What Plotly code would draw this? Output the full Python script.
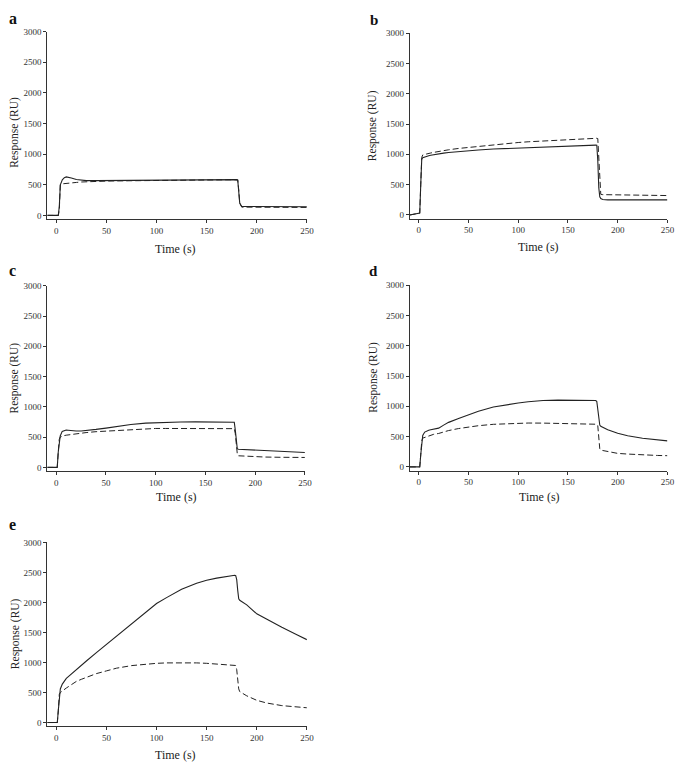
import plotly.graph_objects as go

# The page body has an 8px margin, so figure pixel = window pixel - 8
OFF = 8
W, H = 685 - OFF, 766 - OFF

# Common time grid (s)
time_s = [-9, 1, 2, 3, 4, 6, 8, 10, 12, 15, 20, 25, 30, 40, 50, 60, 75, 90, 100, 110,
          125, 140, 150, 160, 170, 178, 179, 180, 181, 182, 183, 185, 190, 200, 210, 225, 240, 250]

# Panel a
a_solid = [0, 0, 0, 150, 500, 580, 615, 628, 625, 610, 585, 572, 568, 568, 570, 572, 574, 576, 577, 578,
           579, 580, 581, 582, 583, 584, 584, 584, 580, 420, 200, 146, 145, 145, 143, 142, 140, 140]
a_dash = [0, 0, 0, 100, 500, 515, 520, 525, 528, 532, 538, 545, 550, 556, 560, 563, 567, 571, 573, 575,
          577, 578, 579, 580, 581, 582, 582, 582, 578, 420, 200, 135, 135, 135, 133, 132, 130, 130]
# Panel b
b_solid = [0, 30, 500, 920, 945, 960, 970, 978, 985, 995, 1008, 1020, 1030, 1047, 1060, 1072, 1087, 1098, 1104, 1110,
           1120, 1132, 1138, 1143, 1148, 1152, 1150, 900, 450, 300, 270, 255, 248, 248, 248, 248, 248, 248]
b_dash = [0, 30, 500, 950, 990, 1000, 1008, 1015, 1022, 1032, 1048, 1062, 1075, 1097, 1115, 1135, 1160, 1182, 1195, 1207,
          1222, 1234, 1240, 1250, 1258, 1265, 1265, 1260, 900, 450, 340, 335, 333, 330, 328, 325, 322, 320]
# Panel c
c_solid = [0, 0, 250, 450, 520, 595, 612, 616, 614, 608, 601, 602, 608, 628, 649, 675, 709, 732, 741, 747,
           751, 752, 752, 752, 752, 752, 745, 620, 420, 310, 300, 298, 292, 283, 276, 264, 252, 245]
c_dash = [0, 0, 250, 460, 502, 518, 525, 532, 537, 545, 555, 565, 575, 590, 600, 612, 627, 637, 643, 643,
          643, 643, 643, 643, 643, 643, 640, 560, 380, 230, 192, 190, 185, 175, 171, 167, 165, 164]
# Panel d
d_solid = [0, 0, 200, 430, 520, 575, 595, 605, 612, 620, 640, 690, 735, 800, 864, 920, 990, 1035, 1054, 1075,
           1097, 1102, 1103, 1103, 1101, 1095, 1080, 950, 780, 690, 670, 655, 615, 554, 515, 474, 445, 429]
d_dash = [0, 0, 200, 430, 475, 488, 502, 515, 525, 538, 552, 578, 600, 633, 658, 680, 703, 717, 723, 724,
          723, 720, 717, 714, 711, 706, 704, 680, 450, 300, 277, 270, 250, 223, 212, 196, 189, 185]
# Panel e
e_solid = [0, 0, 200, 480, 560, 640, 690, 735, 765, 810, 890, 955, 1025, 1163, 1300, 1440, 1650, 1860, 1982, 2080,
           2220, 2320, 2370, 2405, 2435, 2453, 2445, 2380, 2200, 2060, 2035, 2015, 1960, 1810, 1715, 1585, 1460, 1380]
e_dash = [0, 0, 200, 470, 500, 530, 552, 575, 597, 630, 685, 720, 750, 815, 860, 905, 948, 975, 986, 993,
          997, 993, 986, 975, 963, 952, 950, 880, 700, 560, 515, 495, 445, 370, 325, 282, 258, 246]

y_ticks = [0, 500, 1000, 1500, 2000, 2500, 3000]
x_ticks = [0, 50, 100, 150, 200, 250]
panel_labels = ["a", "b", "c", "d", "e"]
x_title = "Time (s)"
y_title = "Response (RU)"

panels = [(a_solid, a_dash), (b_solid, b_dash), (c_solid, c_dash), (d_solid, d_dash), (e_solid, e_dash)]

# window-pixel layout: (left, right, top, bottom) of each plot area
boxes = [(47.7, 310, 26.7, 216), (414, 674.3, 28.3, 215.5), (47.7, 308, 283.3, 470.3),
         (414, 674.3, 282.7, 469.8), (47.7, 310, 542.3, 727.8)]
letter_pos = [(13, 14), (378, 15), (13, 268), (377, 268), (13, 524)]
letter_size = [16, 15, 16, 15, 16]
ytitle_pos = [(15, 128), (377, 122), (15, 376), (377, 376), (15, 634)]
xtitle_pos = [(177, 246), (544, 244), (178, 497), (545, 497), (177, 757)]


def px(x):
    return (x - OFF) / W


def py(y):
    return 1 - (y - OFF) / H


font_family = "Liberation Serif"
fig = go.Figure()
annotations = []
for i, ((sol, das), box) in enumerate(zip(panels, boxes)):
    n = i + 1
    xa = "x" if n == 1 else f"x{n}"
    ya = "y" if n == 1 else f"y{n}"
    fig.add_trace(go.Scatter(x=time_s, y=das, mode="lines", xaxis=xa, yaxis=ya,
                             line=dict(color="#222222", width=1, dash="6px,3px"), showlegend=False))
    fig.add_trace(go.Scatter(x=time_s, y=sol, mode="lines", xaxis=xa, yaxis=ya,
                             line=dict(color="#222222", width=1.1), showlegend=False))
    l, r, t, b = box
    axis_common = dict(showline=True, linecolor="#333333", linewidth=1, ticks="outside",
                       ticklen=3, tickwidth=1, tickcolor="#333333", showgrid=False, zeroline=False,
                       tickfont=dict(family=font_family, size=9, color="#333333"))
    fig.update_layout(**{
        ("xaxis" if n == 1 else f"xaxis{n}"): dict(domain=[px(l), px(r)], anchor=ya, range=[-9, 250],
                                                   tickvals=x_ticks, **axis_common),
        ("yaxis" if n == 1 else f"yaxis{n}"): dict(domain=[py(b), py(t)], anchor=xa, range=[-60, 3000],
                                                   tickvals=y_ticks, **axis_common),
    })
    lx, ly = letter_pos[i]
    annotations.append(dict(text=f"<b>{panel_labels[i]}</b>", x=px(lx), y=py(ly), xref="paper", yref="paper",
                            showarrow=False, font=dict(family=font_family, size=letter_size[i], color="#111111"),
                            xanchor="center", yanchor="middle"))
    tx, ty = ytitle_pos[i]
    annotations.append(dict(text=y_title, x=px(tx), y=py(ty), xref="paper", yref="paper", textangle=-90,
                            showarrow=False, font=dict(family=font_family, size=11.5, color="#222222"),
                            xanchor="center", yanchor="middle"))
    sx, sy = xtitle_pos[i]
    annotations.append(dict(text=x_title, x=px(sx), y=py(sy), xref="paper", yref="paper",
                            showarrow=False, font=dict(family=font_family, size=12, color="#222222"),
                            xanchor="center", yanchor="middle"))

fig.update_layout(width=W, height=H, margin=dict(l=0, r=0, t=0, b=0), paper_bgcolor="white",
                  plot_bgcolor="white", annotations=annotations)
fig.write_html("out.html")
